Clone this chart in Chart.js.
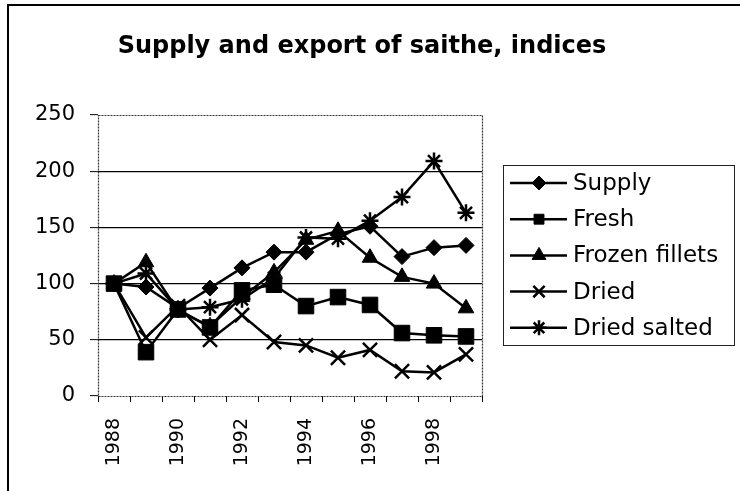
<!DOCTYPE html>
<html>
<head>
<meta charset="utf-8">
<script src="https://cdn.jsdelivr.net/npm/chart.js@4"></script>
<style>
html,body{margin:0;padding:0;background:#fff;}
#wrap{position:relative;width:740px;height:491px;}
</style>
</head>
<body>
<div id="wrap"><canvas id="c" width="740" height="491"></canvas></div>
<script>
const years = ['1988','1989','1990','1991','1992','1993','1994','1995','1996','1997','1998','1999'];
const supply       = [100, 97, 78, 96, 114, 128, 128, 144, 151, 124, 132, 134];
const fresh        = [100, 39, 77, 61, 94, 99, 80, 88, 81, 56, 54, 53];
const frozenFillets= [100, 119, 76, 62, 88, 110, 139, 147, 123, 106, 100, 78];
const dried        = [100, 52, 80, 50, 72, 48, 45, 34, 41, 22, 21, 37];
const driedSalted  = [100, 109, 77, 79, 86, 105, 141, 140, 156, 177, 209, 163];
const seriesNames  = ['Supply','Fresh','Frozen fillets','Dried','Dried salted'];
const yTicks       = [0, 50, 100, 150, 200, 250];
const titleText    = 'Supply and export of saithe, indices';

const styles = [
  {pointStyle:'rectRot',  radius:8,  bw:1, lr:7},
  {pointStyle:'rect',     radius:11, bw:1, lr:7},
  {pointStyle:'triangle', radius:9,  bw:1, lr:8},
  {pointStyle:'crossRot', radius:10, bw:2.5, lr:8},
  {pointStyle:'star',     radius:8.5,bw:2.5, lr:7.5}
];
const allData = [supply, fresh, frozenFillets, dried, driedSalted];

const datasets = allData.map((d, i) => ({
  label: seriesNames[i],
  data: d,
  borderColor: '#000',
  backgroundColor: '#000',
  borderWidth: 2.5,
  pointStyle: styles[i].pointStyle,
  pointRadius: styles[i].radius,
  pointHoverRadius: styles[i].radius,
  pointBackgroundColor: '#000',
  pointBorderColor: '#000',
  pointBorderWidth: styles[i].bw,
  tension: 0,
  fill: false
}));

const FONT = "'DejaVu Sans'";

const decor = {
  id: 'decor',
  beforeDatasetsDraw(chart) {
    const ctx = chart.ctx, a = chart.chartArea;
    ctx.save();
    ctx.strokeStyle = '#333';
    ctx.lineWidth = 1.2;
    ctx.setLineDash([2, 1]);
    ctx.strokeRect(Math.round(a.left) + 0.5, Math.round(a.top) + 0.5, Math.round(a.right - a.left), Math.round(a.bottom - a.top));
    ctx.restore();
  },
  afterDraw(chart) {
    const ctx = chart.ctx;
    ctx.save();
    ctx.strokeStyle = '#000';
    ctx.lineWidth = 2;
    ctx.beginPath();
    ctx.moveTo(8, 491); ctx.lineTo(8, 5); ctx.lineTo(740, 5);
    ctx.stroke();
    ctx.fillStyle = '#000';
    ctx.font = 'bold 24px ' + FONT;
    ctx.textAlign = 'center';
    ctx.textBaseline = 'middle';
    ctx.fillText(titleText, 362, 47);
    const bx = 503.5, by = 165.5, bw = 231, bh = 180;
    ctx.lineWidth = 1;
    ctx.strokeStyle = '#222';
    ctx.strokeRect(bx, by, bw, bh);
    ctx.font = '23px ' + FONT;
    ctx.textAlign = 'left';
    chart.data.datasets.forEach((ds, i) => {
      const y = 183 + i * 36.2;
      ctx.strokeStyle = '#000';
      ctx.fillStyle = '#000';
      ctx.lineWidth = 2.5;
      ctx.beginPath();
      ctx.moveTo(510, y); ctx.lineTo(567, y);
      ctx.stroke();
      ctx.lineWidth = styles[i].bw;
      Chart.helpers.drawPoint(ctx, {pointStyle: styles[i].pointStyle, radius: styles[i].lr, borderWidth: styles[i].bw, rotation: 0}, 539, y);
      ctx.fillStyle = '#000';
      ctx.fillText(ds.label, 573, y + 1);
    });
    ctx.restore();
  }
};

new Chart(document.getElementById('c'), {
  type: 'line',
  data: { labels: years, datasets },
  options: {
    responsive: false,
    animation: false,
    devicePixelRatio: 1,
    layout: { padding: { top: 115, right: 258, left: 0, bottom: 0 } },
    plugins: { legend: { display: false }, title: { display: false }, tooltip: { enabled: false } },
    scales: {
      x: {
        type: 'category',
        offset: true,
        afterFit(s) { s.height = 95; },
        border: { display: false },
        grid: { display: true, drawOnChartArea: false, offset: true, tickLength: 6, tickColor: '#000', tickWidth: 1 },
        ticks: {
          autoSkip: false,
          minRotation: 90,
          maxRotation: 90,
          padding: 16,
          color: '#000',
          font: { family: FONT, size: 19 },
          callback(v, i) { return i % 2 === 0 ? years[i] : ''; }
        }
      },
      y: {
        min: 0,
        max: 250,
        afterFit(s) { s.width = 98; },
        afterBuildTicks(s) { s.ticks = yTicks.map(v => ({ value: v })); },
        border: { display: false },
        grid: {
          color: c => (c.tick && (c.tick.value === 0 || c.tick.value === 250)) ? 'rgba(0,0,0,0)' : '#000',
          lineWidth: 1.3,
          tickLength: 8,
          tickColor: '#000',
          tickWidth: 1
        },
        ticks: {
          padding: 15,
          color: '#000',
          font: { family: FONT, size: 21 }
        }
      }
    }
  },
  plugins: [decor]
});
</script>
</body>
</html>
